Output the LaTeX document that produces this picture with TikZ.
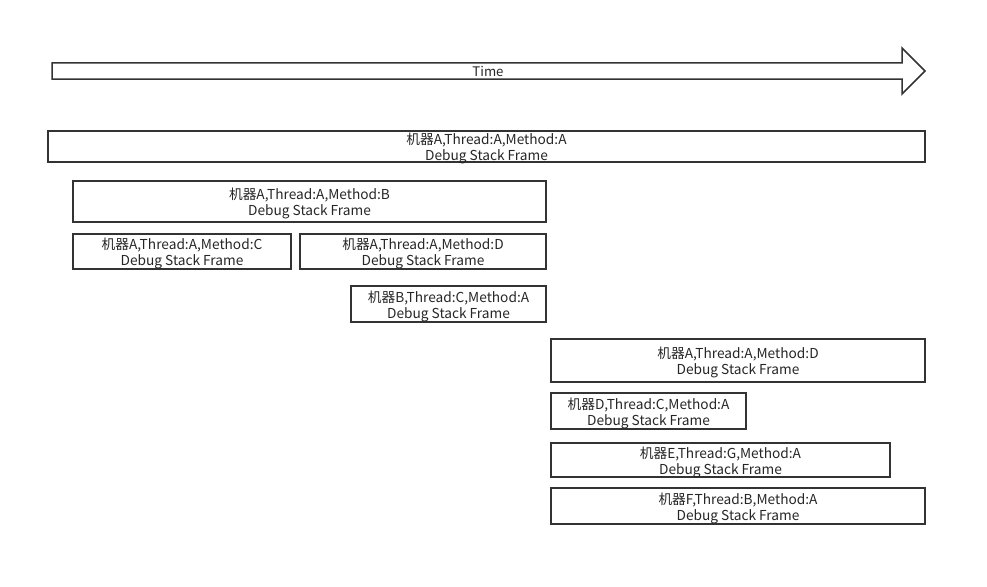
\documentclass[tikz,border=0pt]{standalone}
\usepackage{fontspec}
\setmainfont{Noto Sans CJK SC}
\begin{document}
\begin{tikzpicture}[x=1pt,y=-1pt,
  line/.style={draw=black!80, line width=1.8pt},
  frame/.style={line, rectangle, inner sep=0pt, outer sep=0pt, anchor=north west},
  lbl/.style={align=center, inner sep=0pt, yshift=-2pt,
    font=\fontsize{13.7}{16}\selectfont, text=black!85},
]
\useasboundingbox (0,0) rectangle (987,586);
% time arrow
\draw[draw=black!80, line width=1.5pt, line join=miter]
  (52,63) -- (902,63) -- (902,48) -- (925,71) -- (902,94) -- (902,79) -- (52,79) -- cycle;
\node[font=\fontsize{13.2}{14}\selectfont, text=black!85] (time) at (488,71.5) {Time};
% frames: x, y (top-left), width, height
\node[frame, minimum width=877pt, minimum height=31pt, label={[lbl]center:机器A,Thread:A,Method:A\\Debug Stack Frame}] (f1) at (48,131) {};
\node[frame, minimum width=473pt, minimum height=41pt, label={[lbl]center:机器A,Thread:A,Method:B\\Debug Stack Frame}] (f2) at (73,181) {};
\node[frame, minimum width=218pt, minimum height=35pt, label={[lbl]center:机器A,Thread:A,Method:C\\Debug Stack Frame}] (f3) at (73,234) {};
\node[frame, minimum width=246pt, minimum height=35pt, label={[lbl]center:机器A,Thread:A,Method:D\\Debug Stack Frame}] (f4) at (300,234) {};
\node[frame, minimum width=195pt, minimum height=36pt, label={[lbl]center:机器B,Thread:C,Method:A\\Debug Stack Frame}] (f5) at (351,286) {};
\node[frame, minimum width=374pt, minimum height=43pt, label={[lbl]center:机器A,Thread:A,Method:D\\Debug Stack Frame}] (f6) at (551,339) {};
\node[frame, minimum width=195pt, minimum height=36pt, label={[lbl]center:机器D,Thread:C,Method:A\\Debug Stack Frame}] (f7) at (551,393) {};
\node[frame, minimum width=339pt, minimum height=34pt, label={[lbl]center:机器E,Thread:G,Method:A\\Debug Stack Frame}] (f8) at (551,443) {};
\node[frame, minimum width=374pt, minimum height=36pt, label={[lbl]center:机器F,Thread:B,Method:A\\Debug Stack Frame}] (f9) at (551,488) {};
\end{tikzpicture}
\end{document}
